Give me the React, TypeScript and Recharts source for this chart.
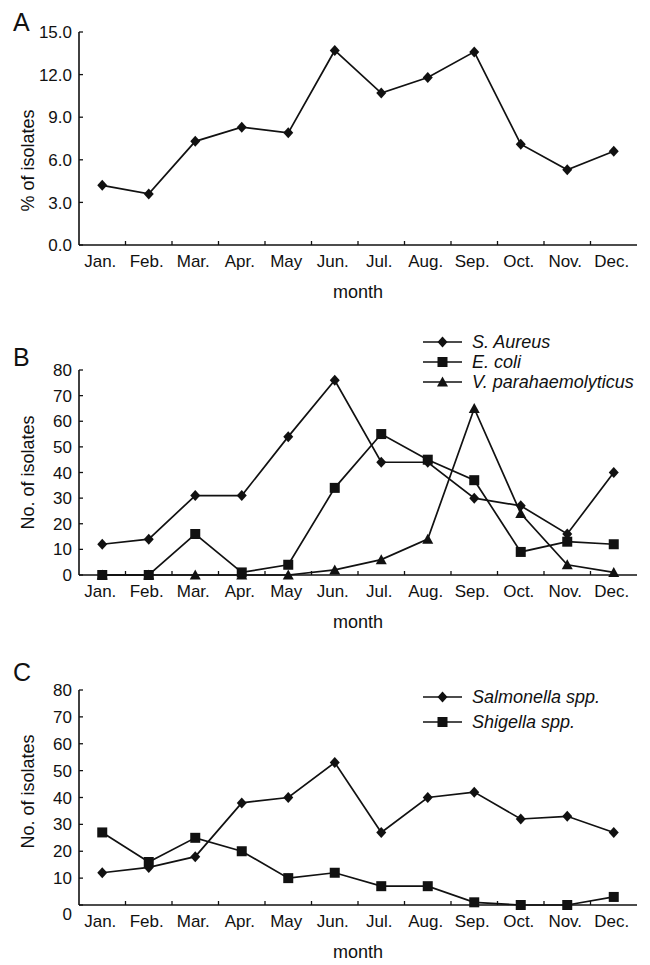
import { Line, LineChart, XAxis, YAxis } from "recharts";

const months = ["Jan.", "Feb.", "Mar.", "Apr.", "May", "Jun.", "Jul.", "Aug.", "Sep.", "Oct.", "Nov.", "Dec."];

// panel A: % of isolates per month
const percentIsolates = [4.2, 3.6, 7.3, 8.3, 7.9, 13.7, 10.7, 11.8, 13.6, 7.1, 5.3, 6.6];
// panel B
const sAureus = [12, 14, 31, 31, 54, 76, 44, 44, 30, 27, 16, 40];
const eColi = [0, 0, 16, 1, 4, 34, 55, 45, 37, 9, 13, 12];
const vPara = [0, 0, 0, 0, 0, 2, 6, 14, 65, 24, 4, 1];
// panel C
const salmonella = [12, 14, 18, 38, 40, 53, 27, 40, 42, 32, 33, 27];
const shigella = [27, 16, 25, 20, 10, 12, 7, 7, 1, 0, 0, 3];

const percentTicks = [0, 3, 6, 9, 12, 15];
const countTicks = [0, 10, 20, 30, 40, 50, 60, 70, 80];

type Shape = "diamond" | "square" | "triangle";
type Series = { key: string; name: string; values: number[]; shape: Shape };

const INK = "#111";
const FONT = '"Liberation Sans", Arial, Helvetica, sans-serif';
const X_TICKS = months.flatMap((_, i) => [i, i + 0.5]);
const X_GAP = 10;
const Y_GAP = 7;

function Marker({ cx, cy, shape }: { cx?: number; cy?: number; shape: Shape }) {
  if (cx == null || cy == null) return <g />;
  if (shape === "square") {
    return <rect x={cx - 5} y={cy - 5} width={10} height={10} fill={INK} />;
  }
  if (shape === "triangle") {
    return <polygon points={`${cx},${cy - 5.5} ${cx + 5.5},${cy + 4.5} ${cx - 5.5},${cy + 4.5}`} fill={INK} />;
  }
  return <polygon points={`${cx},${cy - 5.5} ${cx + 5},${cy} ${cx},${cy + 5.5} ${cx - 5},${cy}`} fill={INK} />;
}

function XTick(props: any) {
  const { x, y, payload } = props;
  const v = payload.value as number;
  const axisY = y - X_GAP;
  if (Number.isInteger(v)) {
    if (v <= 0 || v >= months.length) return <g />;
    return <line x1={x} x2={x} y1={axisY} y2={axisY - 4} stroke={INK} strokeWidth={1.3} />;
  }
  return (
    <text x={x - 2} y={y} dy="0.71em" textAnchor="middle" fontSize={17} fontFamily={FONT} fill={INK}>
      {months[Math.floor(v)]}
    </text>
  );
}

function makeYTick(format: (v: number) => string, zeroDrop: number) {
  return function YTick(props: any) {
    const { x, y, payload } = props;
    const axisX = x + Y_GAP;
    const drop = payload.value === 0 ? zeroDrop : 0;
    return (
      <g>
        <line x1={axisX} x2={axisX + 4} y1={y} y2={y} stroke={INK} strokeWidth={1.3} />
        <text x={x} y={y + drop} dy="0.36em" textAnchor="end" fontSize={17} fontFamily={FONT} fill={INK}>
          {format(payload.value)}
        </text>
      </g>
    );
  };
}

type PanelProps = {
  top: number;
  height: number;
  marginTop: number;
  xAxisHeight: number;
  letter: string;
  letterTop: number;
  yLabel: string;
  yLabelShift?: number;
  yTicks: number[];
  yFormat: (v: number) => string;
  zeroDrop?: number;
  series: Series[];
  legendOrder?: string[];
  legendTop?: number;
  legendGap?: number;
};

function Panel({
  top,
  height,
  marginTop,
  xAxisHeight,
  letter,
  letterTop,
  yLabel,
  yLabelShift = 0,
  yTicks,
  yFormat,
  zeroDrop = 0,
  series,
  legendOrder,
  legendTop = 0,
  legendGap = 20,
}: PanelProps) {
  const data = months.map((m, i) => {
    const row: Record<string, number | string> = { x: i + 0.5, month: m };
    series.forEach((s) => (row[s.key] = s.values[i]));
    return row;
  });
  const legendItems = legendOrder ? legendOrder.map((k) => series.find((s) => s.key === k)!) : [];
  const YTick = makeYTick(yFormat, zeroDrop);

  return (
    <>
      <div style={{ position: "absolute", left: 0, top, width: 650, height }}>
        <LineChart width={650} height={height} data={data} margin={{ top: marginTop, right: 13, left: 0, bottom: 0 }}>
          <XAxis
            type="number"
            dataKey="x"
            domain={[0, 12]}
            ticks={X_TICKS}
            interval={0}
            tickSize={0}
            tickMargin={X_GAP}
            tickLine={false}
            height={xAxisHeight}
            axisLine={{ stroke: INK, strokeWidth: 1.6 }}
            tick={(p: any) => <XTick {...p} />}
            label={{ value: "month", position: "insideBottom", offset: xAxisHeight - 53, fill: INK, fontSize: 18, fontFamily: FONT }}
          />
          <YAxis
            width={79}
            domain={[yTicks[0], yTicks[yTicks.length - 1]]}
            ticks={yTicks}
            interval={0}
            tickSize={0}
            tickMargin={Y_GAP}
            tickLine={false}
            axisLine={{ stroke: INK, strokeWidth: 1.6 }}
            tick={(p: any) => <YTick {...p} />}
            label={{
              value: yLabel,
              angle: -90,
              position: "insideLeft",
              offset: 28,
              dy: yLabelShift,
              fill: INK,
              fontSize: 18,
              fontFamily: FONT,
              style: { textAnchor: "middle" },
            }}
          />
          {series.map((s) => (
            <Line
              key={s.key}
              type="linear"
              dataKey={s.key}
              name={s.name}
              stroke={INK}
              strokeWidth={1.7}
              dot={(p: any) => <Marker key={`${s.key}-${p.index}`} cx={p.cx} cy={p.cy} shape={s.shape} />}
              activeDot={false}
              isAnimationActive={false}
            />
          ))}
        </LineChart>
      </div>
      <div
        style={{
          position: "absolute",
          left: 13,
          top: letterTop - 15,
          fontSize: 25,
          lineHeight: "30px",
          fontFamily: FONT,
          color: INK,
        }}
      >
        {letter}
      </div>
      {legendItems.map((s, i) => (
        <div
          key={s.key}
          style={{
            position: "absolute",
            left: 423,
            top: legendTop + i * legendGap - 10,
            height: 20,
            display: "flex",
            alignItems: "center",
            fontFamily: FONT,
            fontSize: 18,
            fontStyle: "italic",
            color: INK,
            whiteSpace: "nowrap",
          }}
        >
          <svg width={40} height={20}>
            <line x1={0} x2={39} y1={10} y2={10} stroke={INK} strokeWidth={1.7} />
            <Marker cx={19.5} cy={10} shape={s.shape} />
          </svg>
          <span style={{ marginLeft: 9 }}>{s.name}</span>
        </div>
      ))}
    </>
  );
}

export default function App() {
  return (
    <div
      style={{
        position: "absolute",
        left: 0,
        top: 0,
        width: 650,
        height: 965,
        background: "#fff",
        overflow: "hidden",
        fontFamily: FONT,
      }}
    >
      <Panel
        top={0}
        height={310}
        marginTop={32}
        xAxisHeight={65}
        letter="A"
        letterTop={22}
        yLabel="% of isolates"
        yLabelShift={22}
        yTicks={percentTicks}
        yFormat={(v) => v.toFixed(1)}
        series={[{ key: "pct", name: "% of isolates", values: percentIsolates, shape: "diamond" }]}
      />
      <Panel
        top={330}
        height={310}
        marginTop={40}
        xAxisHeight={65}
        letter="B"
        letterTop={357}
        yLabel="No. of isolates"
        yTicks={countTicks}
        yFormat={(v) => String(v)}
        series={[
          { key: "vp", name: "V. parahaemolyticus", values: vPara, shape: "triangle" },
          { key: "ec", name: "E. coli", values: eColi, shape: "square" },
          { key: "sa", name: "S. Aureus", values: sAureus, shape: "diamond" },
        ]}
        legendOrder={["sa", "ec", "vp"]}
        legendTop={342}
        legendGap={20}
      />
      <Panel
        top={650}
        height={315}
        marginTop={40}
        xAxisHeight={60}
        letter="C"
        letterTop={672}
        yLabel="No. of isolates"
        yLabelShift={-6}
        yTicks={countTicks}
        yFormat={(v) => String(v)}
        zeroDrop={9}
        series={[
          { key: "sal", name: "Salmonella spp.", values: salmonella, shape: "diamond" },
          { key: "shi", name: "Shigella spp.", values: shigella, shape: "square" },
        ]}
        legendOrder={["sal", "shi"]}
        legendTop={697}
        legendGap={25}
      />
    </div>
  );
}
